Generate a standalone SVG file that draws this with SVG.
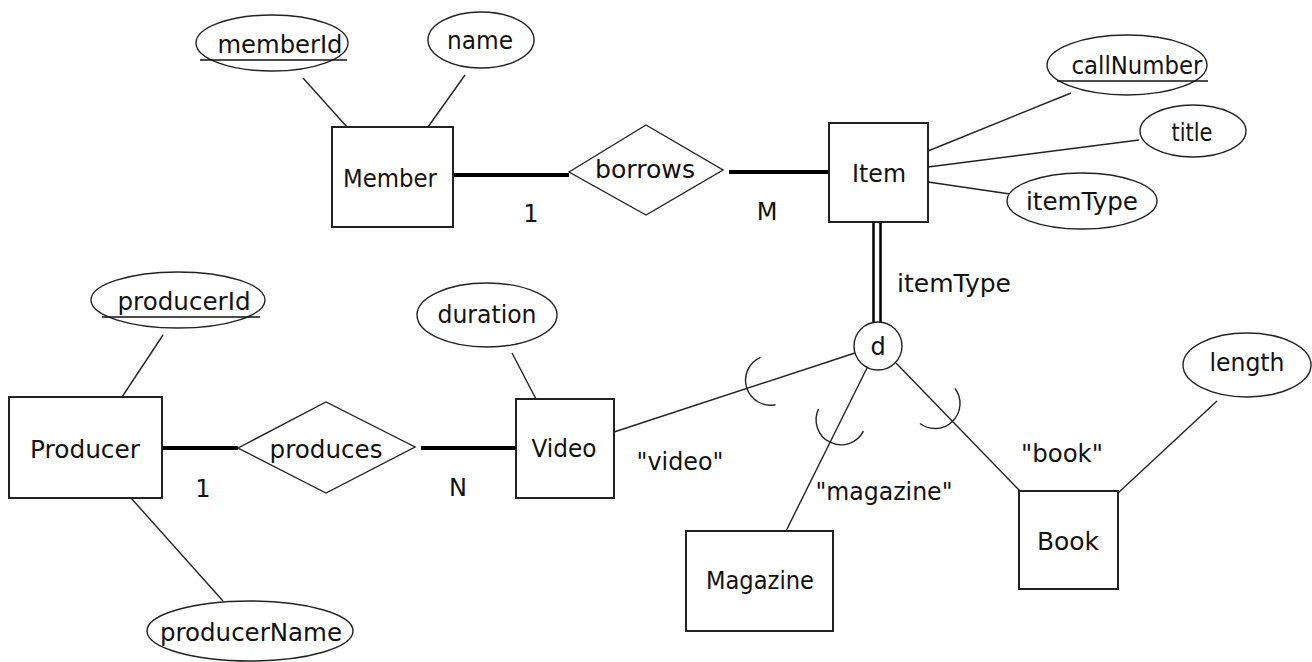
<svg xmlns="http://www.w3.org/2000/svg" width="1312" height="662" viewBox="0 0 1312 662">
<style>
text{font-family:"DejaVu Sans","Liberation Sans",sans-serif;font-size:24px;fill:#111;text-anchor:middle}
.ent{fill:#fff;stroke:#222;stroke-width:2}
.att{fill:#fff;stroke:#222;stroke-width:1.4}
.rel{fill:#fff;stroke:#222;stroke-width:1.4}
.thin{stroke:#222;stroke-width:1.4;fill:none}
.thick{stroke:#000;stroke-width:4;fill:none}
.dbl{stroke:#000;stroke-width:2.5;fill:none}
.ul{stroke:#111;stroke-width:1.6}
</style>
<rect width="1312" height="662" fill="#fff"/>
<g id="connectors">
  <line class="thin" x1="303" y1="78" x2="347" y2="127"/>
  <line class="thin" x1="465" y1="75" x2="428" y2="127"/>
  <line class="thick" x1="453" y1="175" x2="569" y2="175"/>
  <line class="thick" x1="729" y1="172" x2="829" y2="172"/>
  <line class="thin" x1="928" y1="151" x2="1071" y2="93"/>
  <line class="thin" x1="928" y1="167" x2="1139" y2="140"/>
  <line class="thin" x1="928" y1="182" x2="1010" y2="194"/>
  <line class="dbl" x1="873.5" y1="222" x2="873.5" y2="324"/>
  <line class="dbl" x1="880.5" y1="222" x2="880.5" y2="324"/>
  <line class="thin" x1="163" y1="335" x2="122" y2="397"/>
  <line class="thin" x1="131" y1="498" x2="223" y2="601"/>
  <line class="thick" x1="162" y1="448" x2="238" y2="448"/>
  <line class="thick" x1="421" y1="448" x2="516" y2="448"/>
  <line class="thin" x1="512" y1="353" x2="536" y2="399"/>
  <line class="thin" x1="614" y1="432" x2="855" y2="353"/>
  <line class="thin" x1="867" y1="368" x2="786" y2="531"/>
  <line class="thin" x1="896" y1="363" x2="1020" y2="491"/>
  <line class="thin" x1="1217" y1="401" x2="1118" y2="493"/>
  <path class="thin" d="M760.5 357.3 A25 25 0 0 0 775.5 404.7"/>
  <path class="thin" d="M863.4 431.1 A25 25 0 0 1 818.6 408.9"/>
  <path class="thin" d="M955 388.5 A25 25 0 0 1 920 423.5"/>
</g>
<g id="memberId">
  <ellipse class="att" cx="272" cy="43" rx="76" ry="28"/>
  <text x="280" y="53" textLength="125" lengthAdjust="spacingAndGlyphs">memberId</text>
  <line class="ul" x1="200" y1="60" x2="347" y2="60"/>
</g>
<g id="name">
  <ellipse class="att" cx="481" cy="40" rx="53" ry="28"/>
  <text x="480" y="49" textLength="66" lengthAdjust="spacingAndGlyphs">name</text>
</g>
<g id="Member">
  <rect class="ent" x="332" y="127" width="121" height="100"/>
  <text x="390" y="187" textLength="94" lengthAdjust="spacingAndGlyphs">Member</text>
</g>
<g id="borrows">
  <polygon class="rel" points="569,172 646,125 723,170 646,215"/>
  <text x="645" y="178" textLength="100" lengthAdjust="spacingAndGlyphs">borrows</text>
</g>
<g id="card-labels">
  <text x="531" y="222">1</text>
  <text x="767" y="220">M</text>
  <text x="203" y="497">1</text>
  <text x="458" y="496">N</text>
</g>
<g id="Item">
  <rect class="ent" x="829" y="123" width="99" height="99"/>
  <text x="879" y="182" textLength="54" lengthAdjust="spacingAndGlyphs">Item</text>
</g>
<g id="callNumber">
  <ellipse class="att" cx="1127" cy="65" rx="80" ry="30"/>
  <text x="1137" y="74" textLength="131" lengthAdjust="spacingAndGlyphs">callNumber</text>
  <line class="ul" x1="1057" y1="81" x2="1208" y2="81"/>
</g>
<g id="title">
  <ellipse class="att" cx="1193" cy="131" rx="53" ry="26"/>
  <text x="1192" y="141" textLength="41" lengthAdjust="spacingAndGlyphs">title</text>
</g>
<g id="itemType">
  <ellipse class="att" cx="1082" cy="201" rx="75" ry="28"/>
  <text x="1082" y="210" textLength="112" lengthAdjust="spacingAndGlyphs">itemType</text>
</g>
<g id="spec-label">
  <text x="954" y="292" textLength="114" lengthAdjust="spacingAndGlyphs">itemType</text>
</g>
<g id="d">
  <circle class="att" cx="878" cy="346" r="24"/>
  <text x="878" y="355">d</text>
</g>
<g id="producerId">
  <ellipse class="att" cx="178" cy="300" rx="87" ry="28"/>
  <text x="184" y="310" textLength="133" lengthAdjust="spacingAndGlyphs">producerId</text>
  <line class="ul" x1="102" y1="317" x2="260" y2="317"/>
</g>
<g id="Producer">
  <rect class="ent" x="9" y="397" width="153" height="101"/>
  <text x="85" y="458" textLength="110" lengthAdjust="spacingAndGlyphs">Producer</text>
</g>
<g id="producerName">
  <ellipse class="att" cx="250" cy="631" rx="103" ry="30"/>
  <text x="251" y="641" textLength="182" lengthAdjust="spacingAndGlyphs">producerName</text>
</g>
<g id="produces">
  <polygon class="rel" points="238,448 326,402 415,447 326,493"/>
  <text x="326" y="458" textLength="113" lengthAdjust="spacingAndGlyphs">produces</text>
</g>
<g id="duration">
  <ellipse class="att" cx="487" cy="315" rx="70" ry="32"/>
  <text x="487" y="323" textLength="99" lengthAdjust="spacingAndGlyphs">duration</text>
</g>
<g id="Video">
  <rect class="ent" x="516" y="399" width="98" height="99"/>
  <text x="564" y="457" textLength="65" lengthAdjust="spacingAndGlyphs">Video</text>
</g>
<g id="Magazine">
  <rect class="ent" x="686" y="531" width="147" height="100"/>
  <text x="760" y="589" textLength="108" lengthAdjust="spacingAndGlyphs">Magazine</text>
</g>
<g id="Book">
  <rect class="ent" x="1019" y="491" width="99" height="98"/>
  <text x="1068" y="550" textLength="62" lengthAdjust="spacingAndGlyphs">Book</text>
</g>
<g id="length">
  <ellipse class="att" cx="1247" cy="365" rx="64" ry="32"/>
  <text x="1247" y="371" textLength="75" lengthAdjust="spacingAndGlyphs">length</text>
</g>
<g id="discriminator-labels">
  <text x="680" y="470" textLength="87" lengthAdjust="spacingAndGlyphs">"video"</text>
  <text x="884" y="500" textLength="137" lengthAdjust="spacingAndGlyphs">"magazine"</text>
  <text x="1062" y="462" textLength="82" lengthAdjust="spacingAndGlyphs">"book"</text>
</g>
</svg>
